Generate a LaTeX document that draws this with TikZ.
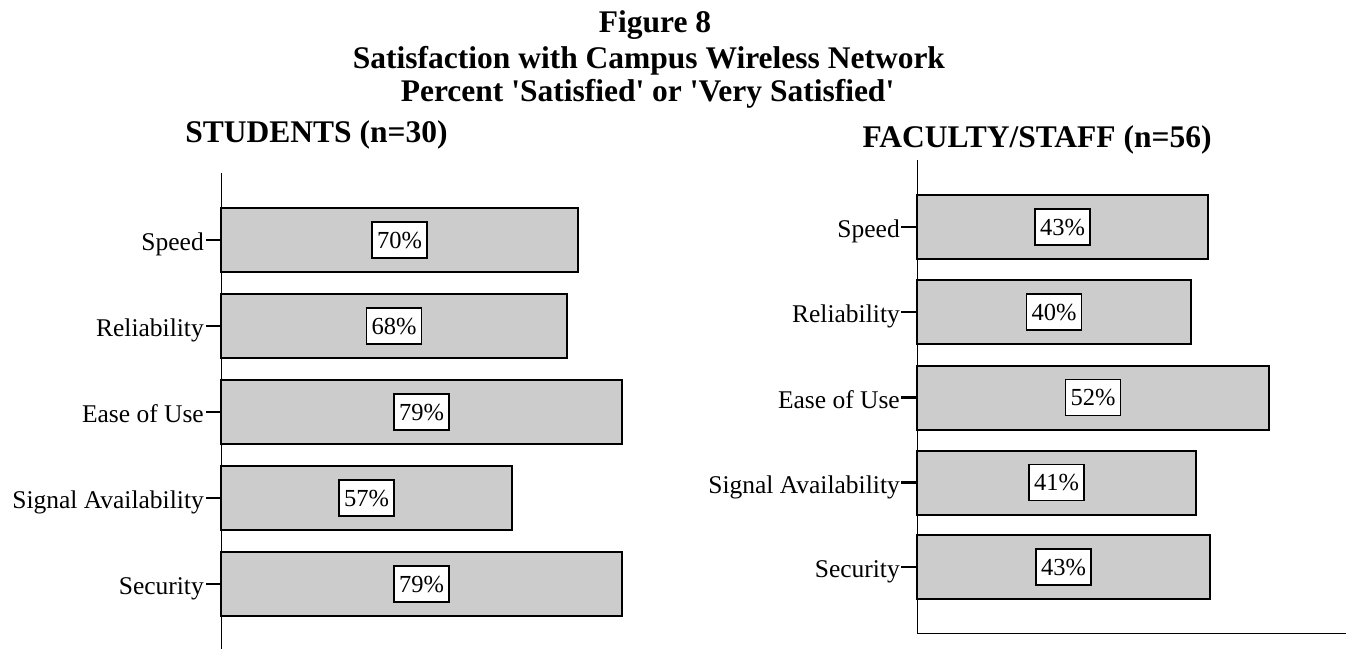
\documentclass[tikz,border=0pt]{standalone}
\usepackage{fontspec}
\setmainfont{Liberation Serif}[Ligatures=TeXOff]
\definecolor{barfill}{HTML}{CCCCCC}
\begin{document}
\begin{tikzpicture}[x=1pt,y=-1pt,
  bar/.style={draw=black, line width=2pt, fill=barfill},
  pct/.style={draw=black, line width=1.8pt, fill=white, minimum width=55pt,
    minimum height=36pt, inner sep=0pt, text height=16.6pt, text depth=0pt,
    font=\fontsize{24.5}{24.5}\selectfont},
  cat/.style={anchor=base east, inner sep=0pt, font=\fontsize{25.5}{25.5}\selectfont},
  axisline/.style={line width=1pt},
  tickmark/.style={line width=2.2pt},
  head/.style={font=\bfseries\fontsize{31.5}{31.5}\selectfont, anchor=base, inner sep=0pt}]
\useasboundingbox (0,0) rectangle (1348,649);

% titles
\node[head] (t1) at (655,32) {Figure 8};
\node[head] (t2) at (649,68) {Satisfaction with Campus Wireless Network};
\node[head] (t3) at (647.5,101) {Percent 'Satisfied' or 'Very Satisfied'};
\node[head] (hs) at (316.5,142) {STUDENTS (n=30)};
\node[head] (hf) at (1037,147) {FACULTY/STAFF (n=56)};

% students panel
\coordinate (sa0) at (221,173);
\coordinate (sa1) at (221,649);
\draw[axisline] (sa0) -- (sa1);
\foreach \lab/\c/\r/\p [count=\i] in {Speed/240/578/70, Reliability/326/567/68,
    Ease of Use/412/622/79, Signal Availability/498/512/57, Security/584/622/79}{
  \draw[bar] (221,\c-32) rectangle (\r,\c+32);
  \node[pct] (sp\i) at ({(221+\r)/2},\c) {\p\%};
  \node[cat] (sl\i) at (204,\c+10.5) {\lab};
  \coordinate (st\i) at (221,\c);
  \draw[tickmark] (sl\i.base east) ++(2,-10.5) -- (st\i);
}

% faculty/staff panel
\coordinate (fa0) at (917,160);
\coordinate (fa1) at (917,633);
\coordinate (fa2) at (1346,633);
\draw[axisline] (fa0) -- (fa1) -- (fa2);
\foreach \lab/\c/\r/\p [count=\i] in {Speed/227/1208/43, Reliability/312/1191/40,
    Ease of Use/397.5/1269/52, Signal Availability/482.5/1196/41, Security/567/1210/43}{
  \draw[bar] (917,\c-32) rectangle (\r,\c+32);
  \node[pct] (fp\i) at ({(917+\r)/2},\c) {\p\%};
  \node[cat] (fl\i) at (900,\c+10.5) {\lab};
  \coordinate (ft\i) at (917,\c);
  \draw[tickmark] (fl\i.base east) ++(1,-10.5) -- (ft\i);
}
\end{tikzpicture}
\end{document}
